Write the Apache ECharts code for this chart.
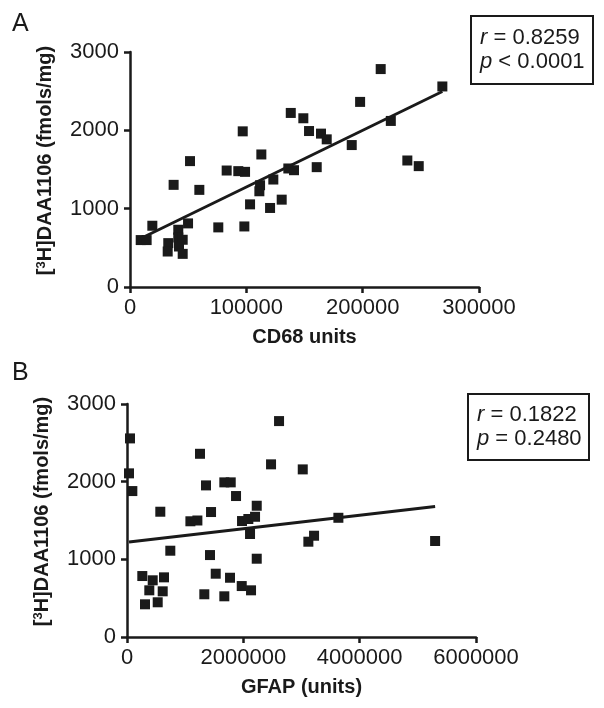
<!DOCTYPE html>
<html>
<head>
<meta charset="utf-8">
<script src="https://cdn.jsdelivr.net/npm/echarts@6/dist/echarts.min.js"></script>
<style>
  html, body { margin: 0; padding: 0; background: #fff; }
  #main { width: 604px; height: 708px; }
</style>
</head>
<body>
<div id="main"></div>
<script>
// panel A: CD68 units vs [3H]DAA1106
const pointsA = [
  [9200, 599], [14300, 599], [19200, 782], [32900, 560], [32400, 453], [41500, 731],
  [41500, 632], [45300, 603], [42100, 517], [45300, 423], [49900, 812], [37500, 1304],
  [51600, 1607], [59600, 1240], [75900, 761], [83100, 1487], [93100, 1479], [98900, 1470],
  [96900, 1987], [98300, 773], [103200, 1055], [112900, 1692], [111800, 1299], [111200, 1222],
  [123200, 1372], [120400, 1009], [130400, 1115], [138200, 2222], [136100, 1513], [141000, 1491],
  [149000, 2154], [153900, 1991], [164200, 1958], [169100, 1885], [160500, 1530], [190600, 1812],
  [197800, 2363], [215500, 2782], [224200, 2120], [238400, 1615], [248200, 1543], [268500, 2560]
];
const fitA = [[9200, 619], [268500, 2496]];

// panel B: GFAP units vs [3H]DAA1106
const pointsB = [
  [51600, 2557], [34400, 2107], [91800, 1879], [572600, 1613], [744600, 1111], [263100, 785],
  [441900, 730], [636300, 768], [383500, 601], [613900, 588], [309500, 421], [527900, 447],
  [1255400, 2359], [1358600, 1952], [1673200, 1991], [1783300, 1991], [1874500, 1815], [1444700, 1609],
  [1090000, 1490], [1210000, 1500], [1427300, 1055], [1525400, 815], [1771300, 763], [1329300, 550],
  [1673200, 524], [1972500, 656], [2132400, 601], [2230400, 1008], [2230400, 1690], [1977600, 1493],
  [2086000, 1519], [2201400, 1548], [2115200, 1326], [2476400, 2223], [2614000, 2780], [3021500, 2158],
  [3634000, 1535], [3118000, 1227], [3216000, 1304], [5297000, 1236]
];
const fitB = [[34400, 1222], [5297000, 1679]];

const statsA = ['0.8259', '< 0.0001'];
const statsB = ['0.1822', '= 0.2480'];

const font = "'Liberation Sans', Arial, sans-serif";
const ink = '#1a1a1a';

function xAx(idx, max, step, name) {
  return {
    type: 'value', gridIndex: idx, min: 0, max: max, interval: step,
    name: name, nameLocation: 'middle', nameGap: 40,
    nameTextStyle: { fontFamily: font, fontSize: 20, fontWeight: 'bold', color: ink },
    axisLine: { lineStyle: { color: ink, width: 2.5 } },
    axisTick: { length: 6, lineStyle: { color: ink, width: 2.5 } },
    axisLabel: { fontFamily: font, fontSize: 22, color: ink, margin: 10, formatter: v => String(v) },
    splitLine: { show: false }
  };
}

function yAx(idx) {
  return {
    type: 'value', gridIndex: idx, min: 0, max: 3000, interval: 1000,
    name: '[{sup|3}H]DAA1106 (fmols/mg)', nameLocation: 'middle', nameGap: 74,
    nameTextStyle: {
      fontFamily: font, fontSize: 20, fontWeight: 'bold', color: ink,
      padding: [0, 0, 0, 18],
      rich: { sup: { fontFamily: font, fontSize: 13, fontWeight: 'bold', color: ink, verticalAlign: 'top', padding: [0, 0, 8, 0] } }
    },
    axisLine: { lineStyle: { color: ink, width: 2.5 } },
    axisTick: { length: 6, lineStyle: { color: ink, width: 2.5 } },
    axisLabel: { fontFamily: font, fontSize: 22, color: ink, margin: 11, formatter: v => String(v) },
    splitLine: { show: false }
  };
}

function statBox(x, y, w, h, stats) {
  return {
    type: 'group', left: x, top: y,
    children: [
      { type: 'rect', shape: { x: 0, y: 0, width: w, height: h },
        style: { fill: '#fff', stroke: ink, lineWidth: 2 } },
      { type: 'text', x: 9, y: h / 2,
        style: {
          text: '{i|r} = ' + stats[0] + '\n{i|p} ' + stats[1],
          fontFamily: font, fontSize: 22, fill: ink, lineHeight: 24, verticalAlign: 'middle',
          rich: { i: { fontFamily: font, fontSize: 22, fontStyle: 'italic', fill: ink } }
        } }
    ]
  };
}

const chart = echarts.init(document.getElementById('main'), null, { renderer: 'canvas' });

const dot = { color: ink, opacity: 1 };

chart.setOption({
  backgroundColor: '#fff',
  animation: false,
  grid: [
    { left: 130, top: 52, width: 349, height: 235 },
    { left: 127, top: 404, width: 349, height: 233 }
  ],
  xAxis: [xAx(0, 300000, 100000, 'CD68 units'), xAx(1, 6000000, 2000000, 'GFAP (units)')],
  yAxis: [yAx(0), yAx(1)],
  series: [
    { type: 'scatter', xAxisIndex: 0, yAxisIndex: 0, data: pointsA, symbol: 'rect', symbolSize: 10, itemStyle: dot },
    { type: 'line', xAxisIndex: 0, yAxisIndex: 0, data: fitA, symbol: 'none', lineStyle: { color: ink, width: 3 }, z: 3 },
    { type: 'scatter', xAxisIndex: 1, yAxisIndex: 1, data: pointsB, symbol: 'rect', symbolSize: 10, itemStyle: dot },
    { type: 'line', xAxisIndex: 1, yAxisIndex: 1, data: fitB, symbol: 'none', lineStyle: { color: ink, width: 3 }, z: 3 }
  ],
  graphic: [
    { type: 'text', left: 12, top: 12, style: { text: 'A', fontFamily: font, fontSize: 25, fill: ink } },
    { type: 'text', left: 12, top: 361, style: { text: 'B', fontFamily: font, fontSize: 25, fill: ink } },
    statBox(470, 15, 122, 68, statsA),
    statBox(467, 393, 121, 66, statsB)
  ]
});
</script>
</body>
</html>
